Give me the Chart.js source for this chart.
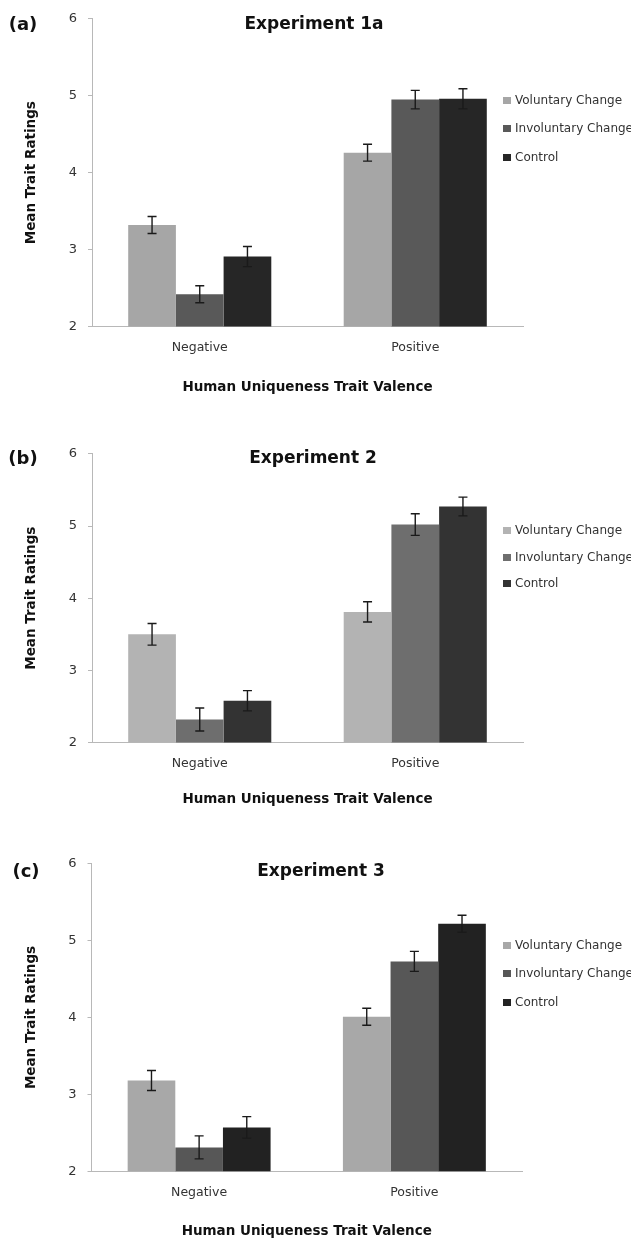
<!DOCTYPE html>
<html>
<head>
<meta charset="utf-8">
<script src="https://cdn.jsdelivr.net/npm/chart.js@4.4.0/dist/chart.umd.min.js"></script>
<style>
  body { margin: 0; background: #fff; width: 631px; height: 1239px; position: relative; overflow: hidden; font-family: "DejaVu Sans", sans-serif; }
  .panel-canvas { position: absolute; left: 0; }
  .letter, .title { position: absolute; transform: translate(-50%, -50%); font-weight: bold; color: #111; white-space: nowrap; }
  .letter { font-size: 18px; }
  .title { font-size: 17px; }
  .legend { position: absolute; left: 503px; font-size: 12px; color: #333; }
  .legend .item { position: absolute; left: 0; height: 14px; line-height: 14px; white-space: nowrap; transform: translateY(-50%); }
  .legend .swatch { display: inline-block; width: 8px; height: 7px; margin-right: 4px; vertical-align: 0px; }
</style>
</head>
<body>
<script>
// ── Shared labels ──
const CATEGORIES = ["Negative", "Positive"];
const SERIES = ["Voluntary Change", "Involuntary Change", "Control"];
const Y_MIN = 2;
const Y_MAX = 6;
const Y_STEP = 1;
const Y_TITLE = "Mean Trait Ratings";
const X_TITLE = "Human Uniqueness Trait Valence";

// ── Experiment 1a (means + SE, per series: [Negative, Positive]) ──
const exp1aVoluntary      = [3.32, 4.26];
const exp1aInvoluntary    = [2.42, 4.95];
const exp1aControl        = [2.91, 4.96];
const exp1aVoluntaryErr   = [0.11, 0.11];
const exp1aInvoluntaryErr = [0.11, 0.12];
const exp1aControlErr     = [0.13, 0.13];

// ── Experiment 2 ──
const exp2Voluntary      = [3.50, 3.81];
const exp2Involuntary    = [2.32, 5.02];
const exp2Control        = [2.58, 5.27];
const exp2VoluntaryErr   = [0.15, 0.14];
const exp2InvoluntaryErr = [0.16, 0.15];
const exp2ControlErr     = [0.14, 0.13];

// ── Experiment 3 ──
const exp3Voluntary      = [3.18, 4.01];
const exp3Involuntary    = [2.31, 4.73];
const exp3Control        = [2.57, 5.22];
const exp3VoluntaryErr   = [0.13, 0.11];
const exp3InvoluntaryErr = [0.15, 0.13];
const exp3ControlErr     = [0.14, 0.11];

// ── Panel layout (pixel geometry only) ──
const panels = [
  { letter: "(a)", title: "Experiment 1a", plotTop: 15, plotBottom: 326.7, axisX: 92, axisEnd: 523, xTitleY: 388,
    letterX: 23, titleX: 314, titleY: 23, legendY: [100, 128, 157],
    colors: ["#a6a6a6", "#595959", "#262626"],
    means: [exp1aVoluntary, exp1aInvoluntary, exp1aControl],
    errs: [exp1aVoluntaryErr, exp1aInvoluntaryErr, exp1aControlErr] },
  { letter: "(b)", title: "Experiment 2", plotTop: 450, plotBottom: 742.7, axisX: 92, axisEnd: 523, xTitleY: 800,
    letterX: 23, titleX: 313, titleY: 457, legendY: [530, 557, 583],
    colors: ["#b3b3b3", "#6e6e6e", "#333333"],
    means: [exp2Voluntary, exp2Involuntary, exp2Control],
    errs: [exp2VoluntaryErr, exp2InvoluntaryErr, exp2ControlErr] },
  { letter: "(c)", title: "Experiment 3", plotTop: 860, plotBottom: 1171, axisX: 91.5, axisEnd: 522, xTitleY: 1231.7,
    letterX: 26, titleX: 321, titleY: 870, legendY: [945, 973, 1002],
    colors: ["#a8a8a8", "#575757", "#222222"],
    means: [exp3Voluntary, exp3Involuntary, exp3Control],
    errs: [exp3VoluntaryErr, exp3InvoluntaryErr, exp3ControlErr] },
];

const PAD_TOP = 15;
const X_TITLE_PAD = 4;
const AXIS_GRAY = "#b8b8b8";

// ── Error bar plugin (uses the chart's own scales) ──
const errorBars = {
  id: "errorBars",
  afterDatasetsDraw(chart) {
    const { ctx } = chart;
    const yScale = chart.scales.y;
    ctx.save();
    ctx.strokeStyle = "#1a1a1a";
    ctx.lineWidth = 1.4;
    chart.data.datasets.forEach((ds, di) => {
      const meta = chart.getDatasetMeta(di);
      meta.data.forEach((bar, i) => {
        const v = ds.data[i];
        const e = ds.errors[i];
        const yHi = yScale.getPixelForValue(v + e);
        const yLo = yScale.getPixelForValue(v - e);
        const x = bar.x;
        ctx.beginPath();
        ctx.moveTo(x, yHi); ctx.lineTo(x, yLo);
        ctx.moveTo(x - 4.5, yHi); ctx.lineTo(x + 4.5, yHi);
        ctx.moveTo(x - 4.5, yLo); ctx.lineTo(x + 4.5, yLo);
        ctx.stroke();
      });
    });
    ctx.restore();
  }
};

function addText(cls, text, x, y) {
  const el = document.createElement("div");
  el.className = cls;
  el.textContent = text;
  el.style.left = x + "px";
  el.style.top = y + "px";
  document.body.appendChild(el);
}

function addLegend(p) {
  const lg = document.createElement("div");
  lg.className = "legend";
  lg.style.top = "0px";
  SERIES.forEach((name, i) => {
    const item = document.createElement("div");
    item.className = "item";
    item.style.top = p.legendY[i] + "px";
    const sw = document.createElement("span");
    sw.className = "swatch";
    sw.style.background = p.colors[i];
    item.appendChild(sw);
    item.appendChild(document.createTextNode(name));
    lg.appendChild(item);
  });
  document.body.appendChild(lg);
}

function buildPanel(p) {
  const canvasTop = p.plotTop - PAD_TOP;
  const xScaleH = p.xTitleY - p.plotBottom + 16.2 / 2 + X_TITLE_PAD;
  const height = p.plotBottom - canvasTop + xScaleH;

  const canvas = document.createElement("canvas");
  canvas.className = "panel-canvas";
  canvas.width = 631;
  canvas.height = Math.round(height);
  canvas.style.top = canvasTop + "px";
  document.body.appendChild(canvas);

  new Chart(canvas, {
    type: "bar",
    data: {
      labels: CATEGORIES,
      datasets: SERIES.map((name, i) => ({
        label: name,
        data: p.means[i],
        errors: p.errs[i],
        backgroundColor: p.colors[i],
        borderWidth: 0,
        categoryPercentage: 0.664,
        barPercentage: 1.0,
      })),
    },
    options: {
      responsive: false,
      animation: false,
      devicePixelRatio: 1,
      layout: { padding: { top: PAD_TOP, left: 0, right: 631 - p.axisEnd, bottom: 0 } },
      plugins: { legend: { display: false }, tooltip: { enabled: false } },
      scales: {
        x: {
          grid: { display: false, drawTicks: false },
          border: { display: true, color: AXIS_GRAY, width: 1 },
          ticks: { color: "#333", padding: 14, font: { family: "DejaVu Sans", size: 12.5 } },
          title: { display: true, text: X_TITLE, color: "#111", padding: { top: 0, bottom: X_TITLE_PAD },
                   font: { family: "DejaVu Sans", size: 13.5, weight: "bold" } },
          afterFit: (s) => { s.height = xScaleH; },
        },
        y: {
          min: Y_MIN, max: Y_MAX,
          grid: { display: true, drawOnChartArea: false, drawTicks: true, tickLength: 4, color: AXIS_GRAY },
          border: { display: true, color: AXIS_GRAY, width: 1 },
          ticks: { stepSize: Y_STEP, color: "#333", padding: 11, font: { family: "DejaVu Sans", size: 13 } },
          title: { display: true, text: Y_TITLE, color: "#111", padding: { top: 23, bottom: 0 },
                   font: { family: "DejaVu Sans", size: 13.5, weight: "bold" } },
          afterFit: (s) => { s.width = p.axisX; },
        },
      },
    },
    plugins: [errorBars],
  });

  addText("letter", p.letter, p.letterX, p.titleY);
  addText("title", p.title, p.titleX, p.titleY);
  addLegend(p);
}

panels.forEach(buildPanel);
</script>
</body>
</html>
